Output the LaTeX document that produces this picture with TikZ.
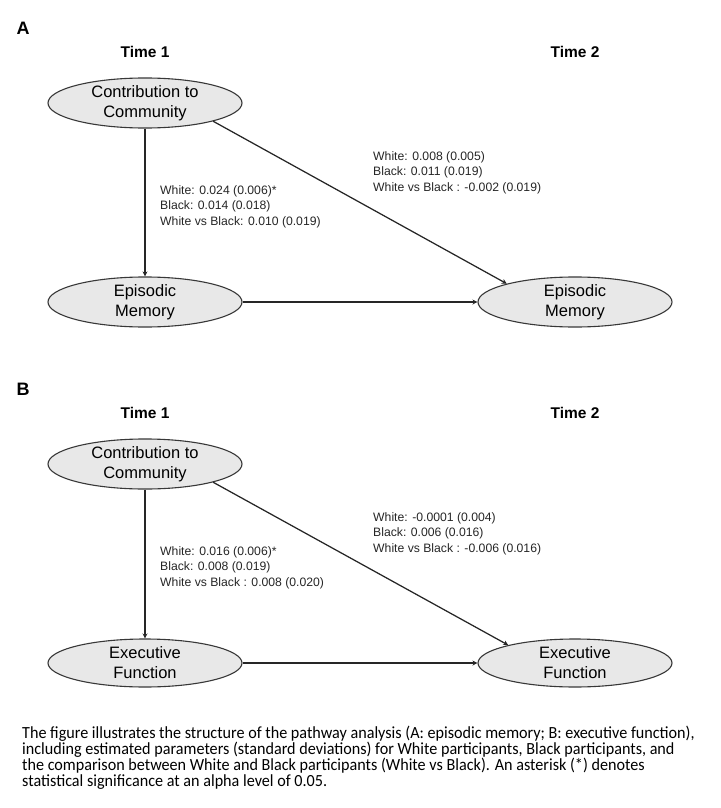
\documentclass[tikz,border=0pt]{standalone}
\usepackage{fontspec}
\setmainfont{Liberation Sans}
\newfontfamily\capfont[FakeStretch=0.95]{Carlito}
\usetikzlibrary{shapes.geometric,arrows.meta}
\begin{document}
\begin{tikzpicture}[x=1pt,y=-1pt,
 var/.style={ellipse,draw=black!78,line width=1.1pt,fill=black!9,minimum width=194pt,minimum height=48pt,inner sep=0pt,align=center,font=\fontsize{16.5}{20}\selectfont},
 link/.style={draw=black!85,line width=1.25pt,-{Stealth[length=5pt,width=5pt]}},
 est/.style={anchor=north west,align=left,inner sep=0pt,font=\fontsize{12.2}{15.5}\selectfont,text=black!85},
 ttl/.style={font=\bfseries\fontsize{15.5}{18}\selectfont},
 pnl/.style={font=\bfseries\fontsize{18}{20}\selectfont},
 captext/.style={anchor=north west,align=left,inner sep=0pt,font=\capfont\fontsize{17}{16}\selectfont}]
\useasboundingbox (0,0) rectangle (720,808);
% Panel A
\node[pnl] (pa) at (23,28) {A};
\node[ttl] (ta1) at (145,52) {Time 1};
\node[ttl] (ta2) at (575,52) {Time 2};
\node[var] (ctcA) at (145,103) {Contribution to\\Community};
\node[var] (emA1) at (145,302) {Episodic\\Memory};
\node[var] (emA2) at (575,302) {Episodic\\Memory};
\draw[link] (ctcA.south) -- (emA1.north);
\draw[link] (emA1.east) -- (emA2.west);
\draw[link] (ctcA.-15) -- (emA2.165);
\node[est] (la1) at (160,185) {White: 0.024 (0.006)*\\Black: 0.014 (0.018)\\White vs Black: 0.010 (0.019)};
\node[est] (la2) at (373,151) {White: 0.008 (0.005)\\Black: 0.011 (0.019)\\White vs Black : -0.002 (0.019)};
% Panel B
\node[pnl] (pb) at (23,389) {B};
\node[ttl] (tb1) at (145,413) {Time 1};
\node[ttl] (tb2) at (575,413) {Time 2};
\node[var] (ctcB) at (145,464) {Contribution to\\Community};
\node[var] (efB1) at (145,663) {Executive\\Function};
\node[var] (efB2) at (575,663) {Executive\\Function};
\draw[link] (ctcB.south) -- (efB1.north);
\draw[link] (efB1.east) -- (efB2.west);
\draw[link] (ctcB.-15) -- (efB2.165);
\node[est] (lb1) at (160,546) {White: 0.016 (0.006)*\\Black: 0.008 (0.019)\\White vs Black : 0.008 (0.020)};
\node[est] (lb2) at (373,512) {White: -0.0001 (0.004)\\Black: 0.006 (0.016)\\White vs Black : -0.006 (0.016)};
% Caption
\node[captext] (capt) at (22,726) {The figure illustrates the structure of the pathway analysis (A: episodic memory; B: executive function),\\including estimated parameters (standard deviations) for White participants, Black participants, and\\the comparison between White and Black participants (White vs Black). An asterisk (*) denotes\\statistical significance at an alpha level of 0.05.};
\end{tikzpicture}
\end{document}
